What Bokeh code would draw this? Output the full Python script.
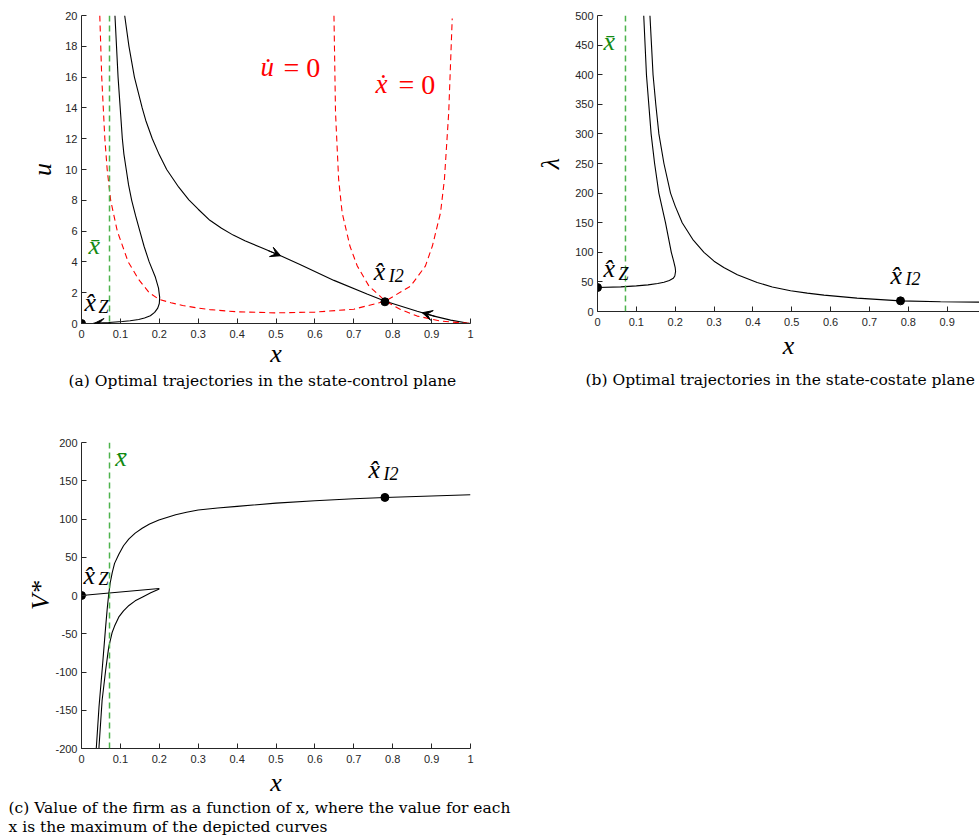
from bokeh.plotting import figure
from bokeh.models import Range1d, FixedTicker, Span, Label, Arrow, VeeHead, NumeralTickFormatter, ColumnDataSource, Title
from bokeh.layouts import column, row
from bokeh.embed import file_html
from bokeh.resources import INLINE

# ---------------- data ----------------
xbar = 0.072

# panel (a): state-control plane
a_xdot0_x = [0.047, 0.052, 0.060, 0.066, 0.075, 0.092, 0.120, 0.147, 0.174, 0.199, 0.230, 0.260, 0.300,
             0.330, 0.400, 0.500, 0.600, 0.700, 0.781, 0.846, 0.884, 0.902, 0.923, 0.933, 0.944, 0.953]
a_xdot0_u = [20.0, 16.0, 12.0, 10.0, 8.0, 6.0, 4.0, 2.86, 2.0, 1.57, 1.35, 1.17, 1.0,
             0.9, 0.76, 0.69, 0.74, 0.93, 1.45, 2.43, 3.73, 5.03, 7.2, 9.37, 13.7, 19.8]
a_udot0_x = [0.649, 0.653, 0.661, 0.670, 0.690, 0.709, 0.739, 0.781, 0.820, 0.863, 0.923, 0.974, 1.0]
a_udot0_u = [20.0, 13.7, 9.37, 7.2, 5.03, 3.73, 2.43, 1.46, 0.91, 0.48, 0.16, 0.05, 0.0]
a_trajA_x = [0.111, 0.122, 0.136, 0.156, 0.165, 0.182, 0.200, 0.219, 0.250, 0.276, 0.300, 0.330,
             0.360, 0.390, 0.420, 0.460, 0.512, 0.563, 0.649, 0.734, 0.781, 0.863, 0.906, 0.949,
             0.991, 1.0]
a_trajA_u = [20.0, 18.0, 16.0, 14.0, 13.2, 12.0, 10.95, 10.0, 8.85, 8.03, 7.42, 6.7,
             6.18, 5.74, 5.38, 4.95, 4.40, 3.82, 2.80, 1.92, 1.45, 0.80, 0.48, 0.22,
             0.03, 0.0]
a_trajB_x = [0.086, 0.094, 0.105, 0.109, 0.115, 0.121, 0.129, 0.139, 0.150, 0.161, 0.174, 0.190,
             0.198, 0.201, 0.200, 0.196, 0.188, 0.177, 0.162, 0.147, 0.125, 0.105, 0.070,
             0.030, 0.0]
a_trajB_u = [20.0, 16.0, 12.0, 11.0, 10.0, 9.0, 8.0, 7.0, 6.0, 5.0, 4.0, 3.0,
             2.3, 1.7, 1.3, 1.0, 0.72, 0.50, 0.36, 0.26, 0.18, 0.13, 0.06,
             0.02, 0.0]
a_points_x = [0.0, 0.78]
a_points_u = [0.0, 1.41]
a_arrow_x0 = [0.480, 0.910, 0.075]
a_arrow_y0 = [4.73, 0.46, 0.0]
a_arrow_x1 = [0.512, 0.876, 0.032]
a_arrow_y1 = [4.40, 0.70, 0.0]

# panel (b): state-costate plane
b_trajB_x = [0.119, 0.126, 0.138, 0.147, 0.158, 0.175, 0.190, 0.196, 0.200, 0.201, 0.199, 0.195,
             0.185, 0.171, 0.155, 0.130, 0.100, 0.060, 0.0]
b_trajB_l = [500, 400, 300, 250, 200, 150, 100, 85, 74, 68, 60, 56,
             52.5, 49.5, 47.2, 45, 43.3, 41.6, 40.5]
b_trajA_x = [0.135, 0.139, 0.143, 0.150, 0.158, 0.171, 0.188, 0.200, 0.218, 0.245, 0.274, 0.300,
             0.325, 0.360, 0.411, 0.450, 0.497, 0.540, 0.583, 0.668, 0.780, 0.883, 1.0]
b_trajA_l = [500, 450, 400, 350, 300, 250, 200, 178, 150, 122, 100, 85,
             74.3, 62, 49, 41.5, 35, 31, 27.6, 22.6, 18, 16.4, 15.8]
b_points_x = [0.0, 0.78]
b_points_l = [40.5, 18.0]

# panel (c): value of the firm
c_V1_x = [0.036, 0.038, 0.045, 0.053, 0.062, 0.066, 0.070, 0.074, 0.079, 0.085, 0.096, 0.108,
          0.122, 0.138, 0.156, 0.175, 0.199, 0.242, 0.270, 0.300, 0.350, 0.400, 0.500, 0.600,
          0.700, 0.780, 1.0]
c_V1_v = [-230, -200, -145.8, -97.8, -41.3, -18, 2, 17, 30, 42, 54, 65,
          74, 81.5, 88, 93.5, 98.6, 105.5, 108.8, 111.7, 114.3, 116.5, 120.8, 123.9,
          126.5, 128.2, 131.7]
c_V2_x = [0.043, 0.045, 0.053, 0.062, 0.070, 0.079, 0.085, 0.096, 0.108, 0.122, 0.138, 0.156,
          0.178, 0.200]
c_V2_v = [-230, -198, -137, -98, -67.5, -48, -40, -28, -20, -13, -7, -2.2,
          3.5, 8.6]
c_V3_x = [0.0, 0.2]
c_V3_v = [0.0, 9.2]
c_points_x = [0.0, 0.78]
c_points_v = [0.0, 128.2]

x_ticks_full = [0, 0.1, 0.2, 0.3, 0.4, 0.5, 0.6, 0.7, 0.8, 0.9, 1]
a_yticks = [0, 2, 4, 6, 8, 10, 12, 14, 16, 18, 20]
b_yticks = [0, 50, 100, 150, 200, 250, 300, 350, 400, 450, 500]
c_yticks = [-200, -150, -100, -50, 0, 50, 100, 150, 200]

caption_a = "(a) Optimal trajectories in the state-control plane"
caption_b = "(b) Optimal trajectories in the state-costate plane"
caption_c1 = "(c) Value of the firm as a function of x, where the value for each"
caption_c2 = "x is the maximum of the depicted curves"

# ---------------- styling ----------------
AX = "#262626"
RED = "#ff0000"
GREEN_LINE = "#4db34d"
GREEN_TXT = "#138a13"
SERIF = "Liberation Serif"
CAP_FONT = "DejaVu Serif"
SANS = "Liberation Sans"
TXT_LIFT = 10


def make_fig(fw, fh, xr, yr, mb_left, mb_right, mb_top, mb_bottom):
    p = figure(frame_width=fw, frame_height=fh, x_range=Range1d(*xr), y_range=Range1d(*yr),
               output_backend="svg", toolbar_location=None,
               min_border_left=mb_left, min_border_right=mb_right,
               min_border_top=mb_top, min_border_bottom=mb_bottom)
    p.outline_line_color = None
    p.grid.visible = False
    p.background_fill_color = "white"
    p.border_fill_color = "white"
    return p


def style_axes(p, xticks, yticks, xlabel, ylabel, ylabel_standoff, xlabel_standoff):
    for ax in (p.xaxis[0], p.yaxis[0]):
        ax.axis_line_color = AX
        ax.axis_line_width = 1
        ax.major_tick_line_color = AX
        ax.major_tick_in = 5
        ax.major_tick_out = 0
        ax.minor_tick_line_color = None
        ax.major_label_text_font = SANS
        ax.major_label_text_font_size = "11px"
        ax.major_label_text_color = AX
        ax.axis_label_text_font = SERIF
        ax.axis_label_text_font_style = "italic"
        ax.axis_label_text_font_size = "26px"
        ax.axis_label_text_color = "black"
    p.xaxis[0].ticker = FixedTicker(ticks=xticks)
    p.yaxis[0].ticker = FixedTicker(ticks=yticks)
    p.xaxis[0].formatter = NumeralTickFormatter(format="0.[0]")
    p.yaxis[0].formatter = NumeralTickFormatter(format="0")
    p.xaxis[0].major_label_standoff = 6
    p.yaxis[0].major_label_standoff = 4
    p.xaxis[0].axis_label = xlabel
    p.yaxis[0].axis_label = ylabel
    p.xaxis[0].axis_label_standoff = xlabel_standoff
    p.yaxis[0].axis_label_standoff = ylabel_standoff


def caption(p, text, offset, standoff):
    p.add_layout(Title(text=text, align="left", offset=offset, standoff=standoff,
                       text_font=CAP_FONT, text_font_size="15.5px", text_font_style="normal",
                       text_color="black"), "below")


def txt(p, x, y, text, size, color="black", style="italic", x_offset=0, y_offset=0):
    p.add_layout(Label(x=x, y=y, text=text, text_font=SERIF,
                       text_font_size=f"{size}px", text_font_style=style, text_color=color,
                       text_align="left", text_baseline="alphabetic",
                       x_offset=x_offset, y_offset=y_offset + TXT_LIFT))


def hat_label(p, x, y, sub, sub_dx=15, sub_dy=-4):
    txt(p, x, y, "x\u0302", 26)
    txt(p, x, y, sub, 18, x_offset=sub_dx, y_offset=sub_dy)


def xbar_line(p):
    p.add_layout(Span(location=xbar, dimension="height", line_color=GREEN_LINE,
                      line_dash="6 4", line_width=1.5))


# ---------------- panel (a) ----------------
pa = make_fig(389, 308, (0, 1), (0, 20), 81, 60, 13, 89)
style_axes(pa, x_ticks_full, a_yticks, "x", "u", 5, -2)
pa.line(a_trajA_x, a_trajA_u, line_color="black", line_width=1.1)
pa.line(a_trajB_x, a_trajB_u, line_color="black", line_width=1.1)
pa.line(a_xdot0_x, a_xdot0_u, line_color=RED, line_width=1.1, line_dash="6 4")
pa.line(a_udot0_x, a_udot0_u, line_color=RED, line_width=1.1, line_dash="6 4")
xbar_line(pa)
arrow_src = ColumnDataSource(dict(x0=a_arrow_x0, y0=a_arrow_y0, x1=a_arrow_x1, y1=a_arrow_y1))
pa.add_layout(Arrow(end=VeeHead(size=10, fill_color="black", line_color="black", line_width=1),
                    x_start="x0", y_start="y0", x_end="x1", y_end="y1", source=arrow_src,
                    line_color="black", line_width=1))
pa.scatter(a_points_x, a_points_u, size=8, color="black")
hat_label(pa, 0.008, 0.70, "Z", 14, -4)
hat_label(pa, 0.751, 2.71, "I2", 15, -4)
txt(pa, 0.018, 4.4, "x\u0304", 26, color=GREEN_TXT)
txt(pa, 0.46, 16.0, "u\u0307", 27, color=RED)
txt(pa, 0.519, 16.0, "=\u00a00", 28, color=RED, style="normal")
txt(pa, 0.756, 14.9, "x\u0307", 27, color=RED)
txt(pa, 0.815, 14.9, "=\u00a00", 28, color=RED, style="normal")
caption(pa, caption_a, -13, -2)

# ---------------- panel (b) ----------------
pb = make_fig(382, 296, (0, 0.9833), (0, 500), 67, 0, 15, 99)
style_axes(pb, x_ticks_full[:10], b_yticks, "x", "\u03bb", 7, 2)
pb.line(b_trajA_x, b_trajA_l, line_color="black", line_width=1.1)
pb.line(b_trajB_x, b_trajB_l, line_color="black", line_width=1.1)
xbar_line(pb)
pb.scatter(b_points_x, b_points_l, size=8, color="black")
hat_label(pb, 0.0154, 55.2, "Z", 15, -5)
hat_label(pb, 0.754, 43.4, "I2", 15, -3)
txt(pb, 0.0154, 440, "x\u0304", 26, color=GREEN_TXT)
caption(pb, caption_b, -12, 12)

# ---------------- panel (c) ----------------
pc = make_fig(389, 306, (0, 1), (-200, 200), 81, 60, 32, 88)
style_axes(pc, x_ticks_full, c_yticks, "x", "V*", -3, 2)
pc.line(c_V1_x, c_V1_v, line_color="black", line_width=1.1)
pc.line(c_V2_x, c_V2_v, line_color="black", line_width=1.1)
pc.line(c_V3_x, c_V3_v, line_color="black", line_width=1.1)
xbar_line(pc)
pc.scatter(c_points_x, c_points_v, size=8, color="black")
hat_label(pc, 0.005, 13, "Z", 15, -3)
hat_label(pc, 0.738, 151, "I2", 15, -4)
txt(pc, 0.087, 167, "x\u0304", 26, color=GREEN_TXT)
caption(pc, caption_c1, -73, -5)
caption(pc, caption_c2, -73, 2)

layout = column(row(pa, pb), pc)
open("out.html", "w").write(file_html(layout, INLINE))
